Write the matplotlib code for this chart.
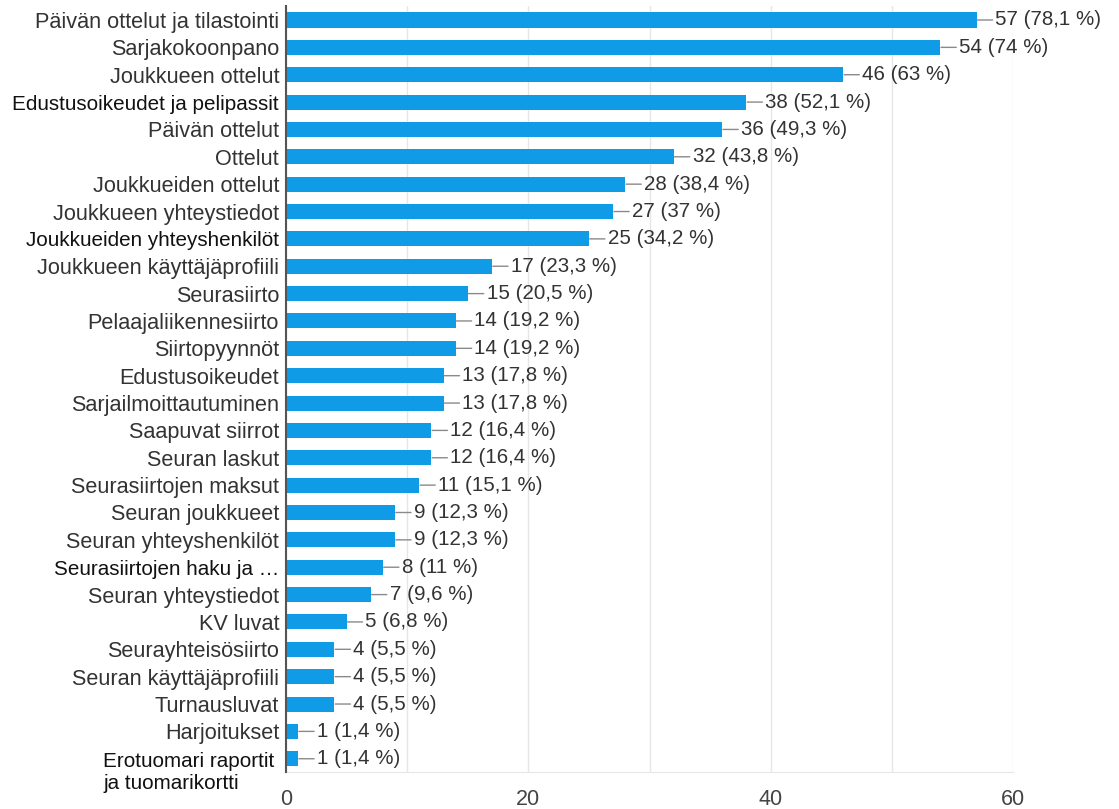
import matplotlib
matplotlib.use("Agg")
import matplotlib.pyplot as plt
import numpy as np

plt.rcParams['font.family'] = ['Liberation Sans', 'DejaVu Sans']

categories = [
    "Päivän ottelut ja tilastointi",
    "Sarjakokoonpano",
    "Joukkueen ottelut",
    "Edustusoikeudet ja pelipassit",
    "Päivän ottelut",
    "Ottelut",
    "Joukkueiden ottelut",
    "Joukkueen yhteystiedot",
    "Joukkueiden yhteyshenkilöt",
    "Joukkueen käyttäjäprofiili",
    "Seurasiirto",
    "Pelaajaliikennesiirto",
    "Siirtopyynnöt",
    "Edustusoikeudet",
    "Sarjailmoittautuminen",
    "Saapuvat siirrot",
    "Seuran laskut",
    "Seurasiirtojen maksut",
    "Seuran joukkueet",
    "Seuran yhteyshenkilöt",
    "Seurasiirtojen haku ja …",
    "Seuran yhteystiedot",
    "KV luvat",
    "Seurayhteisösiirto",
    "Seuran käyttäjäprofiili",
    "Turnausluvat",
    "Harjoitukset",
    "Erotuomari raportit \nja tuomarikortti",
]
counts = [57, 54, 46, 38, 36, 32, 28, 27, 25, 17, 15, 14, 14, 13, 13,
          12, 12, 11, 9, 9, 8, 7, 5, 4, 4, 4, 1, 1]
percents = ["78,1", "74", "63", "52,1", "49,3", "43,8", "38,4", "37", "34,2",
            "23,3", "20,5", "19,2", "19,2", "17,8", "17,8", "16,4", "16,4",
            "15,1", "12,3", "12,3", "11", "9,6", "6,8", "5,5", "5,5", "5,5",
            "1,4", "1,4"]
# labels rendered in a tighter, darker face
compact = {"Edustusoikeudet ja pelipassit", "Joukkueiden yhteyshenkilöt",
           "Seurasiirtojen haku ja …", "Erotuomari raportit \nja tuomarikortti"}

bar_color = "#0f9be5"
text_color = "#333333"
label_size = 15.6

fig = plt.figure(figsize=(11.19, 8.09), dpi=100)
ax = fig.add_axes([0.2556, 0.0452, 0.6497, 0.9470])

y = np.arange(len(categories))
ax.barh(y, counts, height=0.55, color=bar_color, zorder=3)
ax.set_ylim(len(categories) - 0.5, -0.5)
ax.set_xlim(0, 60)

for yi, c, p in zip(y, counts, percents):
    ax.annotate(f"{c} ({p} %)", xy=(c, yi), xytext=(13.5, 0),
                textcoords="offset points", va="center", ha="left",
                fontsize=14.8, color=text_color,
                arrowprops=dict(arrowstyle="-", color="#8a8a8a", lw=1,
                                shrinkA=0, shrinkB=0.5),
                zorder=4)

# category labels; wrapped ones hang below their bar instead of centring
ax.set_yticks(y)
ax.set_yticklabels(["" if "\n" in c else c for c in categories],
                   fontsize=label_size, color=text_color)
for lab, cat in zip(ax.get_yticklabels(), categories):
    if cat in compact:
        lab.set_color("#111111")
        lab.set_fontsize(label_size * 0.95)
for yi, cat in zip(y, categories):
    if "\n" in cat:
        ax.annotate(cat, xy=(0, yi), xycoords=ax.get_yaxis_transform(),
                    xytext=(-4, 5.0), textcoords="offset points",
                    ha="right", va="top", multialignment="left",
                    linespacing=1.2, fontsize=label_size * 0.95,
                    color="#111111" if cat in compact else text_color)
ax.tick_params(axis="y", length=0, pad=5)

ax.set_xticks([0, 20, 40, 60])
ax.set_xticks([10, 30, 50], minor=True)
ax.tick_params(axis="x", which="both", length=0, pad=12, labelsize=15.5,
               labelcolor="#444444")
ax.grid(axis="x", which="both", color="#e6e6e6", lw=1, zorder=0)

for side in ("top", "right"):
    ax.spines[side].set_visible(False)
ax.spines["bottom"].set_color("#e6e6e6")
ax.spines["left"].set_color("#555555")
ax.spines["left"].set_linewidth(1.5)
ax.spines["left"].set_zorder(5)

fig.savefig("out.png", dpi=100, facecolor="white")
